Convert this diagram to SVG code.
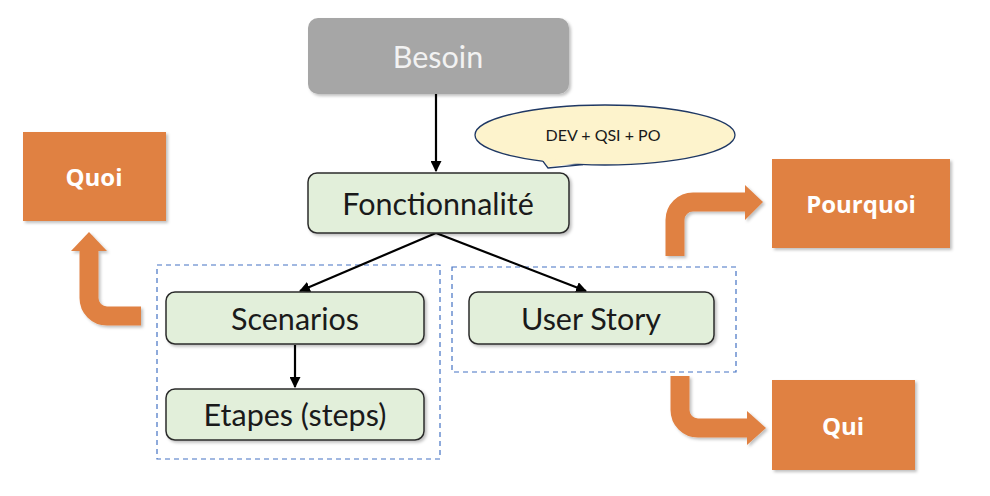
<svg xmlns="http://www.w3.org/2000/svg" width="990" height="496" viewBox="0 0 990 496">
<style>
.grn{fill:#e2efda;stroke:#2b2b2b;stroke-width:1.5}
.org{fill:#e08142}
.lbl{font-family:Lato,"Open Sans",sans-serif;font-size:30.5px;fill:#1a1a1a;text-anchor:middle;dominant-baseline:central}
.wlbl{font-family:"Open Sans",Lato,sans-serif;font-size:24px;font-weight:bold;fill:#ffffff;text-anchor:middle;dominant-baseline:central}
.dash{fill:none;stroke:#4472c4;stroke-width:1.2;stroke-dasharray:5,4}
.conn{stroke:#000;stroke-width:2.2;fill:none}
.bent{fill:none;stroke:#e08142;stroke-width:19}
</style>
<defs>
<filter id="sh" x="-10%" y="-10%" width="130%" height="130%">
<feDropShadow dx="2" dy="2" stdDeviation="1.5" flood-color="#000" flood-opacity="0.25"/>
</filter>
<marker id="ah" viewBox="0 0 10 10" refX="9" refY="5" markerWidth="5" markerHeight="5" orient="auto" markerUnits="strokeWidth">
<path d="M0,0 L10,5 L0,10 z" fill="#000"/>
</marker>
</defs>
<rect class="dash" x="157" y="265" width="283" height="194"/>
<rect class="dash" x="452" y="267" width="284" height="105"/>
<g id="connectors">
<line class="conn" x1="436" y1="94" x2="436" y2="171" marker-end="url(#ah)"/>
<line class="conn" x1="436" y1="233" x2="300" y2="291" marker-end="url(#ah)"/>
<line class="conn" x1="436" y1="233" x2="586" y2="291" marker-end="url(#ah)"/>
<line class="conn" x1="295" y1="345" x2="295" y2="387" marker-end="url(#ah)"/>
<g filter="url(#sh)">
<path class="bent" d="M89 250 V298 A18 18 0 0 0 107 316 H141"/>
<polygon class="org" points="71,251 89,232 107,251"/>
<path class="bent" d="M675 256 V220 A18 18 0 0 1 693 202 H746"/>
<polygon class="org" points="745,185 763,202 745,220"/>
<path class="bent" d="M680 376 V410 A18 18 0 0 0 698 428 H748"/>
<polygon class="org" points="747,411 766,428 747,445"/>
</g>
</g>
<g id="besoin">
<rect x="308" y="18" width="261" height="76" rx="10" fill="#a6a6a6" filter="url(#sh)"/>
<text class="lbl" x="438" y="56" style="fill:#f2f2f2">Besoin</text>
</g>
<g id="callout">
<ellipse cx="605" cy="135" rx="130" ry="30" fill="#fdf3cc" stroke="#1f3864" stroke-width="1.3"/>
<polygon points="541,158 548,167 588,162" fill="#fdf3cc"/>
<polyline points="543,161.4 548,168 583,164.6" fill="none" stroke="#1f3864" stroke-width="1.3" stroke-linejoin="miter"/>
<text x="603" y="134" font-family="Lato,'Open Sans',sans-serif" font-size="16" fill="#1a1a1a" text-anchor="middle" dominant-baseline="central">DEV + QSI + PO</text>
</g>
<g id="fonctionnalite">
<rect class="grn" x="308" y="173" width="261" height="60" rx="9" filter="url(#sh)"/>
<text class="lbl" x="438" y="203">Fonctionnalité</text>
</g>
<g id="scenarios">
<rect class="grn" x="166" y="292" width="258" height="52" rx="9" filter="url(#sh)"/>
<text class="lbl" x="295" y="318">Scenarios</text>
</g>
<g id="etapes">
<rect class="grn" x="166" y="389" width="258" height="51" rx="9" filter="url(#sh)"/>
<text class="lbl" x="295" y="414">Etapes (steps)</text>
</g>
<g id="userstory">
<rect class="grn" x="469" y="292" width="245" height="52" rx="9" filter="url(#sh)"/>
<text class="lbl" x="591" y="318">User Story</text>
</g>
<g id="quoi">
<rect class="org" x="23" y="132" width="143" height="89" filter="url(#sh)"/>
<text class="wlbl" x="94" y="176">Quoi</text>
</g>
<g id="pourquoi">
<rect class="org" x="772" y="159" width="178" height="89" filter="url(#sh)"/>
<text class="wlbl" x="861" y="203">Pourquoi</text>
</g>
<g id="qui">
<rect class="org" x="772" y="380" width="143" height="90" filter="url(#sh)"/>
<text class="wlbl" x="843" y="425">Qui</text>
</g>
</svg>
